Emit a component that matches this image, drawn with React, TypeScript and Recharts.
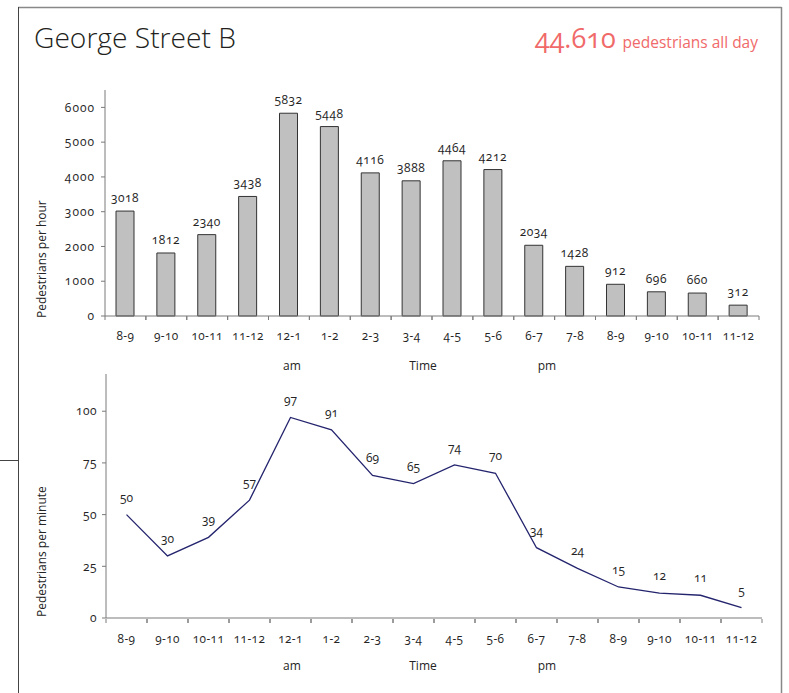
import React from "react";
import { BarChart, Bar, LineChart, Line, XAxis, YAxis, LabelList } from "recharts";

const slots = ["8-9", "9-10", "10-11", "11-12", "12-1", "1-2", "2-3", "3-4", "4-5", "5-6", "6-7", "7-8", "8-9", "9-10", "10-11", "11-12"];
const perHour = [3018, 1812, 2340, 3438, 5832, 5448, 4116, 3888, 4464, 4212, 2034, 1428, 912, 696, 660, 312];
const perMinute = [50, 30, 39, 57, 97, 91, 69, 65, 74, 70, 34, 24, 15, 12, 11, 5];
const hourTicks = [0, 1000, 2000, 3000, 4000, 5000, 6000];
const minuteTicks = [0, 25, 50, 75, 100];

const data = slots.map((slot, i) => ({ slot, perHour: perHour[i], perMinute: perMinute[i] }));

const FONT = "'Open Sans', 'DejaVu Sans', sans-serif";
const AXIS = "#7a7a7a";
const TEXT = "#242424";
const RED = "#f06a6a";

// plot widths, used to put the tick marks between categories (Excel style)
const BAR_BAND = (759 - 105) / slots.length;
const LINE_BAND = (762 - 106) / slots.length;

function SlotTick(props: any) {
  const { x, y, payload, band } = props;
  const axisY = y - 16;
  return (
    <g>
      <line x1={x - band / 2} x2={x - band / 2} y1={axisY} y2={axisY + 4} stroke={AXIS} />
      <line x1={x + band / 2} x2={x + band / 2} y1={axisY} y2={axisY + 4} stroke={AXIS} />
      <text x={x} y={y} dy="0.71em" textAnchor="middle" fontSize={11.8} fill={TEXT} letterSpacing={0.4}>
        {payload.value}
      </text>
    </g>
  );
}

export default function App() {
  return (
    <div
      style={{
        position: "absolute",
        left: 0,
        top: 0,
        width: 789,
        height: 693,
        background: "#fff",
        fontFamily: FONT,
        fontVariantNumeric: "oldstyle-nums",
      }}
    >
      <svg width={789} height={693} style={{ position: "absolute", left: 0, top: 0 }}>
        {/* frame */}
        <line x1={18} x2={781.5} y1={7.5} y2={7.5} stroke="#888" strokeWidth={1.5} />
        <line x1={781.5} x2={781.5} y1={7} y2={693} stroke="#888" strokeWidth={1.5} />
        <line x1={18.5} x2={18.5} y1={7} y2={693} stroke="#444" strokeWidth={1} />
        <line x1={0} x2={18} y1={460.5} y2={460.5} stroke="#444" strokeWidth={1} />

        <text x={34} y={48} fontSize={28.2} fill="#231f20" fontWeight={300}>
          George Street B
        </text>
        <text x={758} y={48} textAnchor="end" fill={RED}>
          <tspan fontSize={27}>44.610 </tspan>
          <tspan fontSize={15.5}>pedestrians all day</tspan>
        </text>

        <text x={46} y={318} fontSize={12} fill={TEXT} transform="rotate(-90 46 318)">
          Pedestrians per hour
        </text>
        <text x={46} y={617} fontSize={12} fill={TEXT} transform="rotate(-90 46 617)">
          Pedestrians per minute
        </text>

        {[370, 670].map((y) => (
          <g key={y} fontSize={12} fill={TEXT} textAnchor="middle">
            <text x={292} y={y}>am</text>
            <text x={423} y={y}>Time</text>
            <text x={547} y={y}>pm</text>
          </g>
        ))}
      </svg>

      <div style={{ position: "absolute", left: 0, top: 0 }}>
        <BarChart width={789} height={380} data={data} margin={{ top: 90, right: 30, bottom: 34, left: 45 }}>
          <XAxis
            dataKey="slot"
            stroke={AXIS}
            tickLine={false}
            tickSize={4}
            tickMargin={12}
            interval={0}
            tick={(p: any) => <SlotTick {...p} band={BAR_BAND} />}
          />
          <YAxis
            width={60}
            domain={[0, 6500]}
            ticks={hourTicks}
            stroke={AXIS}
            tickSize={4}
            tickMargin={6}
            tick={{ fontSize: 12, fill: TEXT, letterSpacing: 1 }}
            interval={0}
          />
          <Bar dataKey="perHour" fill="#c0c0c0" stroke="#333" strokeWidth={1} barSize={18} isAnimationActive={false}>
            <LabelList dataKey="perHour" position="top" offset={9} fontSize={12} fill={TEXT} letterSpacing={0.5} />
          </Bar>
        </BarChart>
      </div>

      <div style={{ position: "absolute", left: 0, top: 360 }}>
        <LineChart width={789} height={333} data={data} margin={{ top: 14, right: 27, bottom: 45, left: 46 }}>
          <XAxis
            dataKey="slot"
            stroke={AXIS}
            tickLine={false}
            tickSize={4}
            tickMargin={13}
            interval={0}
            padding={{ left: LINE_BAND / 2, right: LINE_BAND / 2 }}
            tick={(p: any) => <SlotTick {...p} band={LINE_BAND} />}
          />
          <YAxis
            width={60}
            domain={[0, 118]}
            ticks={minuteTicks}
            stroke={AXIS}
            tickSize={4}
            tickMargin={5}
            tick={{ fontSize: 12, fill: TEXT, letterSpacing: 0.5 }}
            interval={0}
          />
          <Line
            type="linear"
            dataKey="perMinute"
            stroke="#24246e"
            strokeWidth={1.3}
            dot={false}
            isAnimationActive={false}
          >
            <LabelList dataKey="perMinute" position="top" offset={13} fontSize={12} fill={TEXT} />
          </Line>
        </LineChart>
      </div>
    </div>
  );
}
